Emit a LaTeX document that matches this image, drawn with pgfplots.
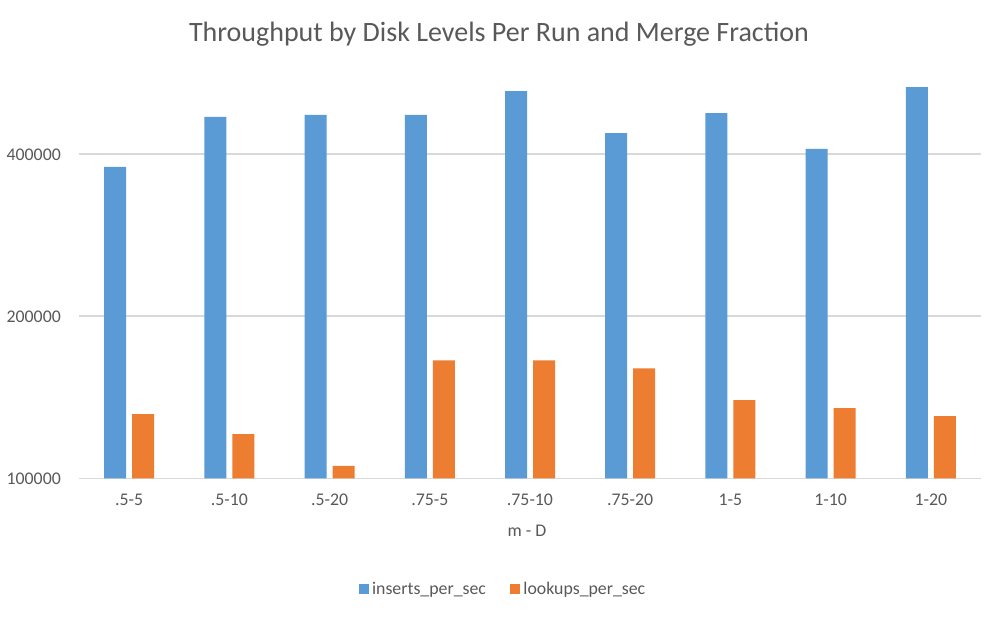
\documentclass[border=0pt]{standalone}
\usepackage{pgfplots}
\pgfplotsset{compat=1.18}
\usepackage{fontspec}
\setmainfont{Carlito}
\definecolor{cblue}{HTML}{5B9BD5}
\definecolor{corange}{HTML}{ED7D31}
\definecolor{gridgray}{HTML}{D9D9D9}
\definecolor{txtgray}{HTML}{595959}
\begin{document}
\begin{tikzpicture}
\path[use as bounding box, fill=white] (0,0) rectangle (1006pt,618pt);
\begin{axis}[
  at={(79pt,139.7pt)}, anchor=south west,
  scale only axis, width=902pt, height=398pt,
  ymode=log, log origin=infty,
  ymin=100000, ymax=548000,
  xmin=-0.5, xmax=8.5,
  ybar, bar width=22pt,
  xtick={0,...,8},
  xticklabels={.5-5,.5-10,.5-20,.75-5,.75-10,.75-20,1-5,1-10,1-20},
  ytick={100000,200000,400000},
  yticklabels={100000,200000,400000},
  minor ytick={},
  major tick length=0pt,
  ymajorgrids,
  grid style={gridgray, line width=1.3pt},
  axis x line*=bottom, axis y line*=left,
  x axis line style={gridgray, line width=1.3pt},
  y axis line style={draw=none},
  tick label style={font=\fontsize{17.8}{21}\selectfont, text=txtgray},
  xticklabel style={anchor=center, yshift=-22pt},
  yticklabel style={anchor=east, inner sep=0pt, xshift=-18pt, yshift=-1pt},
  xlabel={m - D},
  xlabel style={at={(axis description cs:0.4967,-0.1324)}, anchor=center, font=\fontsize{17.8}{21}\selectfont, text=txtgray},
  title={Throughput by Disk Levels Per Run and Merge Fraction},
  title style={at={(axis description cs:0.4656,1.1013)}, anchor=center, font=\fontsize{28}{33}\selectfont, text=txtgray},
  legend columns=2,
  legend style={at={(axis description cs:0.47,-0.278)}, anchor=center, draw=none, fill=none,
    font=\fontsize{17.8}{21}\selectfont, text=txtgray,
    /tikz/every odd column/.append style={column sep=1.5pt},
    /tikz/every even column/.append style={column sep=22pt}},
  legend image code/.code={\fill[#1] (0pt,-5pt) rectangle (10pt,5pt);},
]
\addplot[fill=cblue, draw=none, bar shift=-14pt] coordinates {
 (0,378500) (1,468400) (2,472400) (3,472400) (4,523200) (5,437400) (6,476400) (7,408700) (8,532300)};
\addplot[fill=corange, draw=none, bar shift=14pt] coordinates {
 (0,131500) (1,120800) (2,105400) (3,165600) (4,165600) (5,160000) (6,139600) (7,134900) (8,130400)};
\legend{inserts\_per\_sec, lookups\_per\_sec}
\end{axis}
\end{tikzpicture}
\end{document}
